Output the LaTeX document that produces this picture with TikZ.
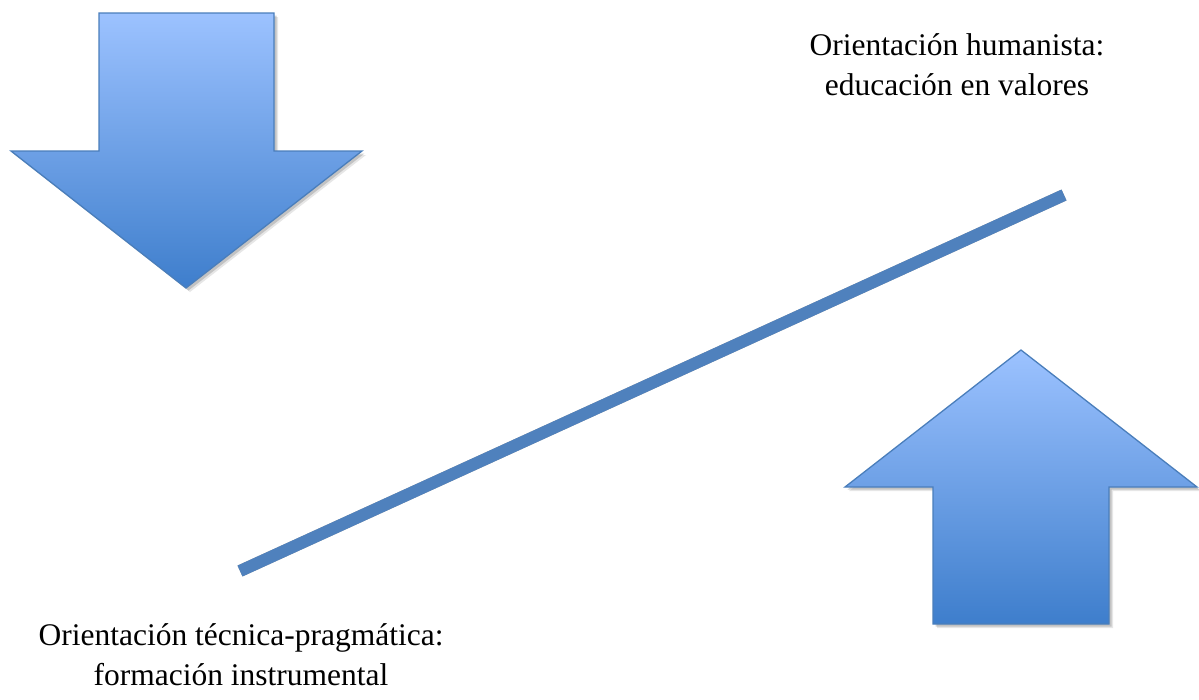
\documentclass[tikz,border=0pt]{standalone}
\usepackage{fontspec}
\setmainfont{Liberation Serif}
\usetikzlibrary{shadows}

\definecolor{arrowtop}{RGB}{156,194,255}
\definecolor{arrowbot}{RGB}{62,126,204}
\definecolor{arrowedge}{RGB}{74,126,187}
\definecolor{barblue}{RGB}{79,129,189}

\tikzset{
    bigarrow/.style={draw=arrowedge, line width=1.3pt, line join=miter,
        top color=arrowtop, bottom color=arrowbot,
        drop shadow={shadow xshift=4pt, shadow yshift=-4pt, opacity=0.2},
        drop shadow={shadow xshift=2.5pt, shadow yshift=-2.5pt, opacity=0.35}},
    orient/.style={align=center, inner sep=0pt, anchor=north,
        font=\fontsize{31.5}{40}\selectfont}
}

\begin{document}
\begin{tikzpicture}[x=1pt, y=-1pt]
        \useasboundingbox (0, 0) rectangle (1199, 699);

        % down arrow
        \path[bigarrow] (99, 13) -- (274, 13) -- (274, 151) -- (362, 151)
            -- (186, 288) -- (11, 151) -- (99, 151) -- cycle;

        % up arrow
        \path[bigarrow] (1021, 350) -- (1197, 487) -- (1109, 487) -- (1109, 624)
            -- (933, 624) -- (933, 487) -- (845, 487) -- cycle;

        \coordinate (low) at (240, 571);
        \coordinate (high) at (1064, 195);

        \draw[black, opacity=0.15, line width=12pt, xshift=4pt, yshift=-4pt]
            (low) -- (high);
        \draw[black, opacity=0.25, line width=12pt, xshift=2.5pt, yshift=-2.5pt]
            (low) -- (high);
        \draw[barblue, line width=12pt]
            (low) -- (high);

        \node[orient] (human) at (957, 33.5)
            {Orientación humanista:\\educación en valores};
        \node[orient] (tecnica) at (241, 623)
            {Orientación técnica-pragmática:\\formación instrumental};
    \end{tikzpicture}
\end{document}
